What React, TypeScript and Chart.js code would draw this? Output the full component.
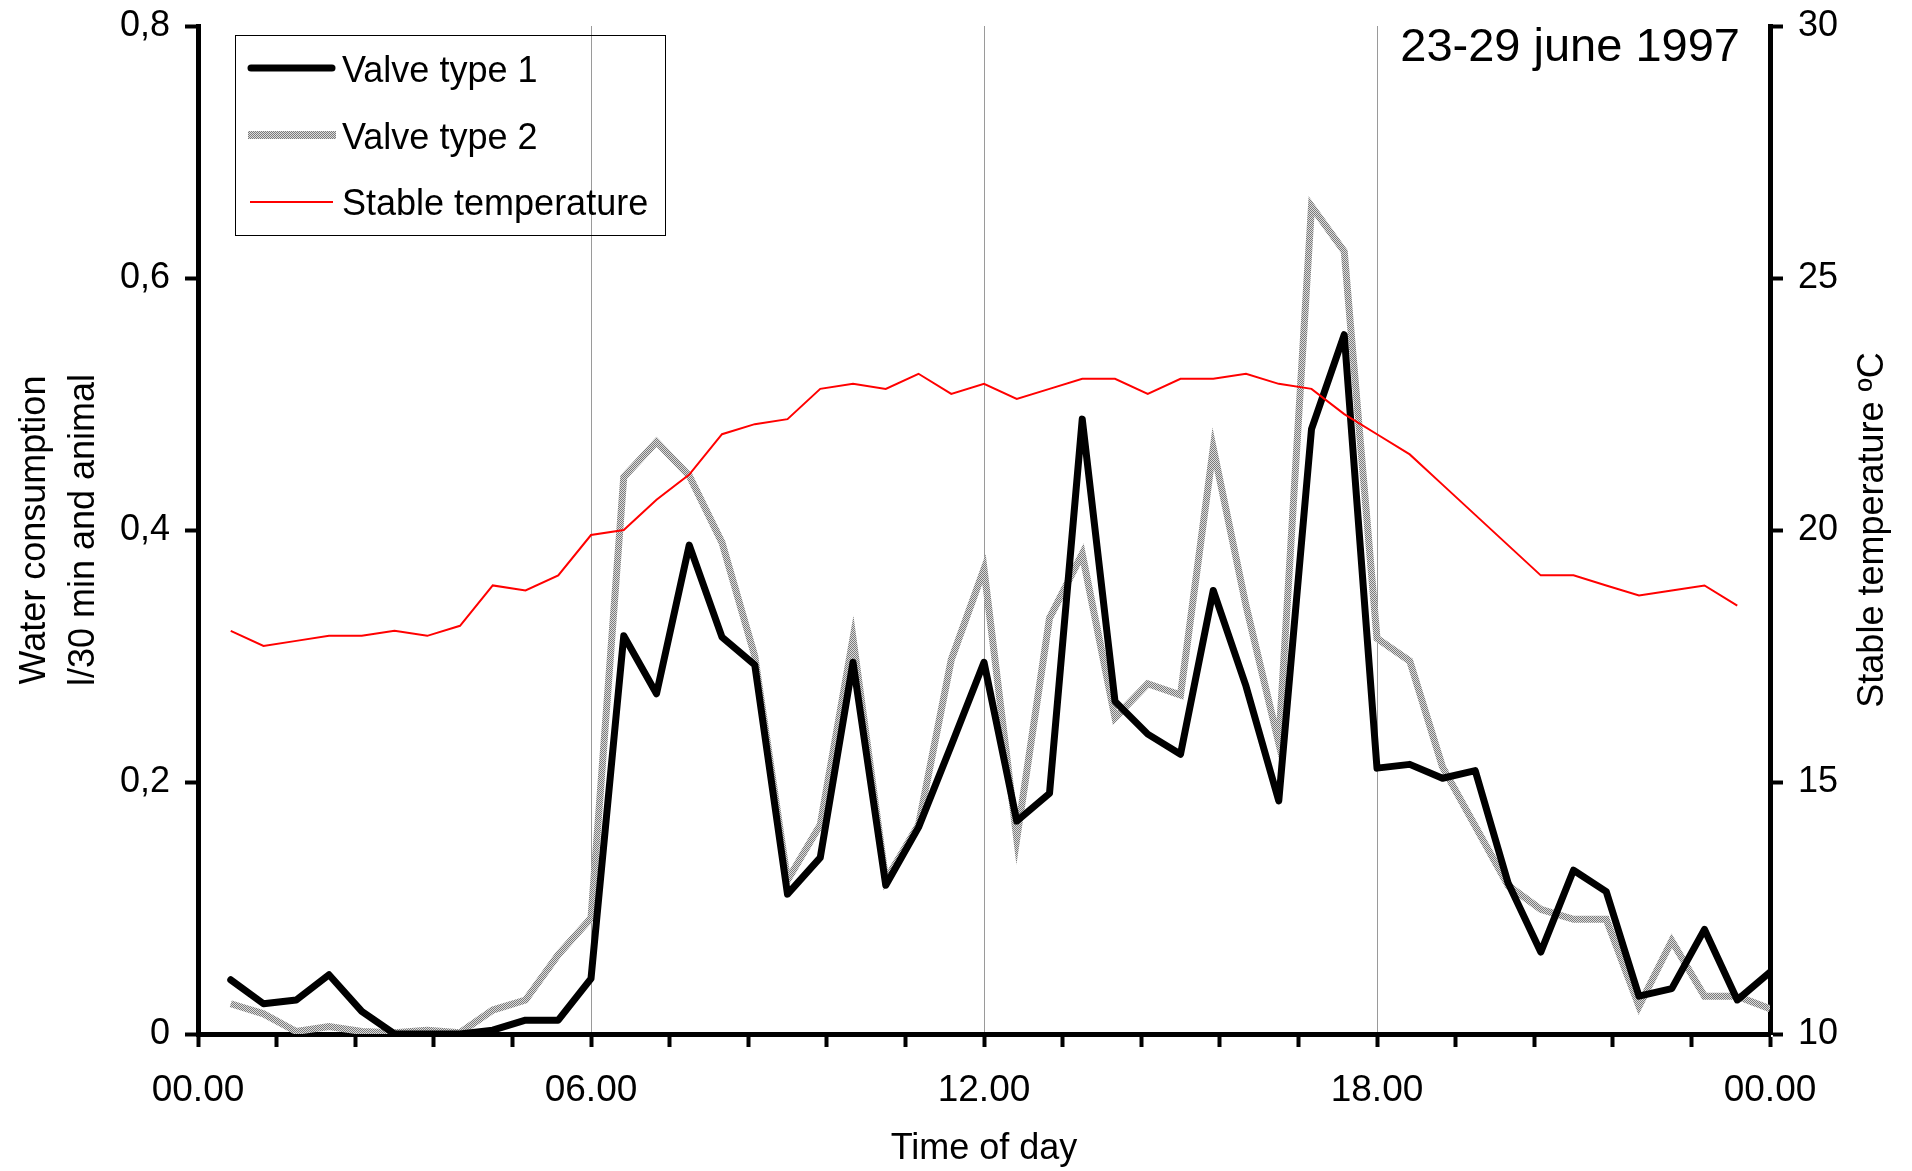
import React, { useEffect, useRef } from 'react';
import { Chart, registerables } from 'chart.js';

Chart.register(...registerables);

// ---- data ----
const times = [
  0.5, 1, 1.5, 2, 2.5, 3, 3.5, 4, 4.5, 5, 5.5, 6,
  6.5, 7, 7.5, 8, 8.5, 9, 9.5, 10, 10.5, 11, 11.5, 12,
  12.5, 13, 13.5, 14, 14.5, 15, 15.5, 16, 16.5, 17, 17.5, 18,
  18.5, 19, 19.5, 20, 20.5, 21, 21.5, 22, 22.5, 23, 23.5, 24,
];

const valveType1 = [
  0.043, 0.024, 0.027, 0.047, 0.018, 0.0, 0.0, 0.0, 0.003, 0.011, 0.011, 0.044,
  0.316, 0.27, 0.388, 0.315, 0.293, 0.111, 0.14, 0.295, 0.118, 0.164, 0.229, 0.295,
  0.169, 0.191, 0.488, 0.264, 0.238, 0.222, 0.352, 0.276, 0.185, 0.48, 0.555, 0.211,
  0.214, 0.203, 0.209, 0.12, 0.065, 0.13, 0.113, 0.03, 0.036, 0.083, 0.027, 0.049,
];

const valveType2 = [
  0.024, 0.016, 0.002, 0.006, 0.002, 0.001, 0.003, 0.001, 0.019, 0.027, 0.063, 0.092,
  0.442, 0.47, 0.443, 0.39, 0.3, 0.122, 0.166, 0.314, 0.122, 0.166, 0.297, 0.369,
  0.155, 0.33, 0.381, 0.251, 0.278, 0.269, 0.465, 0.34, 0.231, 0.657, 0.621, 0.314,
  0.296, 0.212, 0.165, 0.118, 0.099, 0.091, 0.091, 0.022, 0.074, 0.03, 0.03, 0.02,
];

const stableTemperature = [
  18.0, 17.7, 17.8, 17.9, 17.9, 18.0, 17.9, 18.1, 18.9, 18.8, 19.1, 19.9,
  20.0, 20.6, 21.1, 21.9, 22.1, 22.2, 22.8, 22.9, 22.8, 23.1, 22.7, 22.9,
  22.6, 22.8, 23.0, 23.0, 22.7, 23.0, 23.0, 23.1, 22.9, 22.8, 22.3, 21.9,
  21.5, 20.9, 20.3, 19.7, 19.1, 19.1, 18.9, 18.7, 18.8, 18.9, 18.5,
];

const xMajorHours = [0, 6, 12, 18, 24];
const xTickLabels = ['00.00', '06.00', '12.00', '18.00', '00.00'];
const seriesNames = ['Valve type 1', 'Valve type 2', 'Stable temperature'];
const chartTitle = '23-29 june 1997';
const xTitle = 'Time of day';
const yTitleLines = ['Water consumption', 'l/30 min and animal'];
const y1Title = 'Stable temperature ºC';

const FAMILY = 'Arial, "Liberation Sans", sans-serif';

function makeGrayPattern(): CanvasPattern | string {
  const c = document.createElement('canvas');
  c.width = 2;
  c.height = 2;
  const g = c.getContext('2d');
  if (!g) return '#aaaaaa';
  g.fillStyle = '#dcdcdc';
  g.fillRect(0, 0, 2, 2);
  g.fillStyle = '#7a7a7a';
  g.fillRect(0, 0, 1, 1);
  g.fillRect(1, 1, 1, 1);
  const p = g.createPattern(c, 'repeat');
  return p || '#aaaaaa';
}

export default function App() {
  const ref = useRef<HTMLCanvasElement | null>(null);

  useEffect(() => {
    const canvas = ref.current;
    if (!canvas) return;
    const gray = makeGrayPattern();

    const overlay = {
      id: 'overlay',
      afterDraw(chart: any) {
        const ctx = chart.ctx as CanvasRenderingContext2D;
        const ca = chart.chartArea;
        const cy = (ca.top + ca.bottom) / 2;
        ctx.save();
        ctx.fillStyle = '#000';
        ctx.textBaseline = 'alphabetic';

        // chart title
        ctx.font = `47px ${FAMILY}`;
        ctx.textAlign = 'right';
        ctx.fillText(chartTitle, 1740, 61);

        // x title
        ctx.font = `36px ${FAMILY}`;
        ctx.textAlign = 'center';
        ctx.fillText(xTitle, (ca.left + ca.right) / 2, 1159);

        // left title (two lines)
        const lineX = [45, 94];
        yTitleLines.forEach((t, i) => {
          ctx.save();
          ctx.translate(lineX[i], cy);
          ctx.rotate(-Math.PI / 2);
          ctx.fillText(t, 0, 0);
          ctx.restore();
        });

        // right title
        ctx.save();
        ctx.translate(1883, cy);
        ctx.rotate(-Math.PI / 2);
        ctx.fillText(y1Title, 0, 0);
        ctx.restore();

        // legend
        ctx.strokeStyle = '#000';
        ctx.lineWidth = 1;
        ctx.strokeRect(235.5, 35.5, 430, 200);
        const rowsY = [68, 135, 202];
        const baseY = [81.5, 148.5, 215];
        ctx.lineCap = 'round';
        ctx.strokeStyle = '#000';
        ctx.lineWidth = 7;
        ctx.beginPath();
        ctx.moveTo(251, rowsY[0]);
        ctx.lineTo(332, rowsY[0]);
        ctx.stroke();
        ctx.lineCap = 'butt';
        ctx.strokeStyle = gray as any;
        ctx.lineWidth = 8;
        ctx.beginPath();
        ctx.moveTo(248, rowsY[1]);
        ctx.lineTo(336, rowsY[1]);
        ctx.stroke();
        ctx.strokeStyle = '#ff0000';
        ctx.lineWidth = 2;
        ctx.beginPath();
        ctx.moveTo(250, rowsY[2]);
        ctx.lineTo(333, rowsY[2]);
        ctx.stroke();
        ctx.font = `36px ${FAMILY}`;
        ctx.textAlign = 'left';
        seriesNames.forEach((n, i) => ctx.fillText(n, 342, baseY[i]));
        ctx.restore();
      },
    };

    const isMajor = (v: number) => xMajorHours.some((h) => Math.abs(h - v) < 1e-6);

    const chart = new Chart(canvas, {
      type: 'line',
      data: {
        datasets: [
          {
            label: seriesNames[2],
            data: stableTemperature.map((v, i) => ({ x: times[i], y: v })),
            yAxisID: 'y1',
            borderColor: '#ff0000',
            borderWidth: 2,
            pointRadius: 0,
            tension: 0,
            order: 0,
          },
          {
            label: seriesNames[0],
            data: valveType1.map((v, i) => ({ x: times[i], y: v })),
            yAxisID: 'y',
            borderColor: '#000',
            borderWidth: 7,
            borderJoinStyle: 'round',
            borderCapStyle: 'round',
            pointRadius: 0,
            tension: 0,
            order: 1,
          },
          {
            label: seriesNames[1],
            data: valveType2.map((v, i) => ({ x: times[i], y: v })),
            yAxisID: 'y',
            borderColor: gray as any,
            borderWidth: 7,
            borderJoinStyle: 'miter',
            pointRadius: 0,
            tension: 0,
            order: 2,
          },
        ],
      },
      options: {
        responsive: false,
        animation: false,
        events: [],
        layout: { padding: { top: 26, left: 0, right: 0, bottom: 0 } },
        plugins: {
          legend: { display: false },
          tooltip: { enabled: false },
          title: { display: false },
        },
        scales: {
          x: {
            type: 'linear',
            position: 'bottom',
            min: 0,
            max: 24,
            afterFit: (s: any) => {
              s.height = 137;
              s.paddingLeft = 0;
              s.paddingRight = 0;
            },
            ticks: {
              stepSize: 1.2,
              autoSkip: false,
              maxRotation: 0,
              minRotation: 0,
              padding: 22,
              color: '#000',
              font: { family: FAMILY, size: 37 },
              callback: (v: any) => {
                const idx = xMajorHours.findIndex((h) => Math.abs(h - Number(v)) < 1e-6);
                return idx >= 0 ? xTickLabels[idx] : '';
              },
            },
            grid: {
              color: (c: any) =>
                c.tick && isMajor(c.tick.value) && c.tick.value > 0 && c.tick.value < 24
                  ? '#9a9a9a'
                  : 'rgba(0,0,0,0)',
              lineWidth: 1,
              drawTicks: true,
              tickLength: 13,
              tickWidth: 4,
              tickColor: '#000',
            },
            border: { display: true, color: '#000', width: 5 },
          },
          y: {
            type: 'linear',
            position: 'left',
            min: 0,
            max: 0.8,
            afterFit: (s: any) => {
              s.width = 198;
              s.paddingTop = 0;
              s.paddingBottom = 0;
            },
            ticks: {
              stepSize: 0.2,
              padding: 15,
              color: '#000',
              font: { family: FAMILY, size: 36 },
              callback: (v: any) => {
                const n = Number(v);
                return n === 0 ? '0' : n.toFixed(1).replace('.', ',');
              },
            },
            grid: {
              drawOnChartArea: false,
              tickLength: 13,
              tickWidth: 4,
              tickColor: '#000',
            },
            border: { display: true, color: '#000', width: 5 },
          },
          y1: {
            type: 'linear',
            position: 'right',
            min: 10,
            max: 30,
            afterFit: (s: any) => {
              s.width = 142;
              s.paddingTop = 0;
              s.paddingBottom = 0;
            },
            ticks: {
              stepSize: 5,
              padding: 15,
              color: '#000',
              font: { family: FAMILY, size: 36 },
            },
            grid: {
              drawOnChartArea: false,
              tickLength: 13,
              tickWidth: 4,
              tickColor: '#000',
            },
            border: { display: true, color: '#000', width: 5 },
          },
        },
      } as any,
      plugins: [overlay],
    });

    return () => {
      chart.destroy();
    };
  }, []);

  return (
    <div style={{ position: 'fixed', left: 0, top: 0, width: 1912, height: 1171, background: '#fff' }}>
      <canvas ref={ref} width={1912} height={1171} style={{ display: 'block', width: 1912, height: 1171 }} />
    </div>
  );
}
